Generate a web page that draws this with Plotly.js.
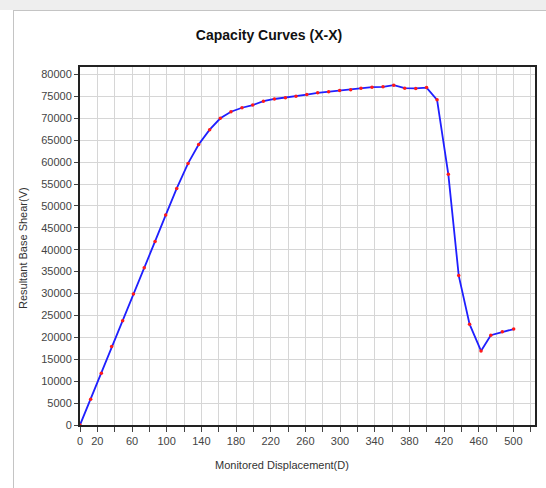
<!DOCTYPE html>
<html>
<head>
<meta charset="utf-8">
<script src="https://cdn.plot.ly/plotly-3.0.1.min.js"></script>
<style>
html,body{margin:0;padding:0;background:#ffffff;}
#wrap{position:relative;width:546px;height:488px;overflow:hidden;}
#topbar{position:absolute;left:0;top:0;width:546px;height:10px;background:#eeeeee;}
#frameTop{position:absolute;left:13px;top:10px;width:533px;height:1px;background:#c4c4c4;}
#frameLeft{position:absolute;left:13px;top:10px;width:1px;height:478px;background:#c4c4c4;}
#chart{position:absolute;left:0;top:0;width:546px;height:488px;}
</style>
</head>
<body>
<div id="wrap">
<div id="topbar"></div>
<div id="frameTop"></div>
<div id="frameLeft"></div>
<div id="chart"></div>
</div>
<script>
// Monitored displacement (D)
const displacement = [0, 12.3, 24.6, 36.5, 49.2, 61.6, 74.1, 86.6, 98.9, 111.6,
  124.7, 136.9, 149.6, 161.9, 174.2, 186.9, 199.3, 211.6, 224.3, 237,
  249.2, 261.7, 274.2, 286.9, 299.6, 312.3, 324.2, 336.9, 349.6, 362,
  374.7, 387.4, 399.9, 412, 425, 437, 449.5, 462.7, 474, 487.3, 500.4];
// Resultant base shear (V)
const baseShear = [0, 5900, 11800, 17900, 23800, 29900, 35900, 41900, 47900, 54000,
  59700, 64000, 67400, 70000, 71500, 72400, 73000, 73900, 74400, 74700,
  75000, 75400, 75800, 76050, 76340, 76500, 76870, 77100, 77180, 77550,
  76870, 76800, 77000, 74200, 57200, 34100, 23000, 16900, 20500, 21260, 21900];

const xTickVals = [];
const xTickText = [];
for (let v = 0; v <= 520; v += 20) {
  xTickVals.push(v);
  xTickText.push((v === 0 || (v - 20) % 40 === 0) ? String(v) : '');
}
const yTickVals = [];
const yTickText = [];
for (let v = 0; v <= 80000; v += 5000) { yTickVals.push(v); yTickText.push(String(v)); }

const L = 80, R = 535, T = 67, B = 425;
const px = x => (x - L) / (R - L);
const py = y => (B - y) / (B - T);

const trace = {
  x: displacement,
  y: baseShear,
  type: 'scatter',
  mode: 'lines+markers',
  line: {color: '#1f1fff', width: 1.8},
  marker: {color: '#ff1a1a', size: 3.5},
  hoverinfo: 'x+y'
};

const layout = {
  width: 546, height: 488,
  margin: {l: L, r: 546 - R, t: T, b: 488 - B, pad: 0},
  paper_bgcolor: 'rgba(0,0,0,0)',
  plot_bgcolor: '#ffffff',
  showlegend: false,
  font: {family: 'Liberation Sans, Arial, sans-serif', size: 11, color: '#444444'},
  title: {
    text: '<b>Capacity Curves (X-X)</b>',
    font: {family: 'Liberation Sans, Arial, sans-serif', size: 14, color: '#111111'},
    x: 269 / 546, xref: 'container', xanchor: 'center',
    y: 1 - 35 / 488, yref: 'container', yanchor: 'middle'
  },
  xaxis: {
    range: [0, 525],
    tickmode: 'array', tickvals: xTickVals, ticktext: xTickText,
    ticks: 'outside', ticklen: 5, tickcolor: '#444444', tickwidth: 1,
    showgrid: true, gridcolor: '#d6d6d6', gridwidth: 1,
    zeroline: false,
    showline: true, linecolor: '#222222', linewidth: 2, mirror: true,
    tickfont: {size: 11, color: '#444444'}
  },
  yaxis: {
    range: [0, 81700],
    tickmode: 'array', tickvals: yTickVals, ticktext: yTickText,
    ticks: 'outside', ticklen: 4, tickcolor: '#444444', tickwidth: 1,
    showgrid: true, gridcolor: '#d6d6d6', gridwidth: 1,
    zeroline: false,
    showline: true, linecolor: '#222222', linewidth: 2, mirror: true,
    tickfont: {size: 11, color: '#444444'}
  },
  annotations: [
    {text: 'Monitored Displacement(D)', xref: 'paper', yref: 'paper',
     x: px(282), y: py(465), xanchor: 'center', yanchor: 'middle', showarrow: false,
     font: {size: 11, color: '#333333'}},
    {text: 'Resultant Base Shear(V)', xref: 'paper', yref: 'paper',
     x: px(23), y: py(248), xanchor: 'center', yanchor: 'middle', showarrow: false,
     textangle: -90, font: {size: 11, color: '#333333'}}
  ]
};

Plotly.newPlot('chart', [trace], layout, {displayModeBar: false, staticPlot: true});
</script>
</body>
</html>
